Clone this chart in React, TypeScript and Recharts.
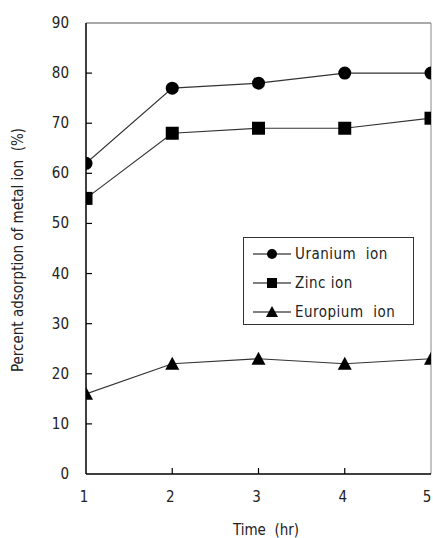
import React from "react";
import {
  LineChart,
  Line,
  XAxis,
  YAxis,
  ReferenceLine,
} from "recharts";

const hours = [1, 2, 3, 4, 5];
const uranium = [62, 77, 78, 80, 80];
const zinc = [55, 68, 69, 69, 71];
const europium = [16, 22, 23, 22, 23];
const yTicks = [0, 10, 20, 30, 40, 50, 60, 70, 80, 90];

const data = hours.map((h, i) => ({
  hour: h,
  uranium: uranium[i],
  zinc: zinc[i],
  europium: europium[i],
}));

const FONT = "'Liberation Sans Narrow', 'DejaVu Sans Condensed', 'Liberation Sans', sans-serif";
const INK = "#222";

const Circle = (props: any) => {
  const { cx, cy } = props;
  if (cx == null || cy == null) return null;
  return <circle cx={cx} cy={cy} r={6.5} fill="#000" />;
};

const Square = (props: any) => {
  const { cx, cy } = props;
  if (cx == null || cy == null) return null;
  return <rect x={cx - 6.5} y={cy - 6.5} width={13} height={13} fill="#000" />;
};

const Triangle = (props: any) => {
  const { cx, cy } = props;
  if (cx == null || cy == null) return null;
  return (
    <path
      d={`M${cx},${cy - 7} L${cx + 7},${cy + 6} L${cx - 7},${cy + 6} Z`}
      fill="#000"
    />
  );
};

const YTick = (props: any) => {
  const { x, y, payload } = props;
  return (
    <g>
      {payload.value !== 0 && payload.value !== 90 && (
        <line x1={x} y1={y} x2={x + 6} y2={y} stroke="#000" strokeWidth={1.2} />
      )}
      <text
        x={x - 17}
        y={y + 5}
        textAnchor="end"
        fontSize={15}
        fontFamily={FONT}
        fill={INK}
      >
        {payload.value}
      </text>
    </g>
  );
};

const XTick = (props: any) => {
  const { x, y, payload } = props;
  return (
    <g>
      {payload.value !== 1 && payload.value !== 5 && (
        <line x1={x} y1={y} x2={x} y2={y - 6} stroke="#000" strokeWidth={1.2} />
      )}
      <text
        x={x - 2}
        y={y + 28}
        textAnchor="middle"
        fontSize={15}
        fontFamily={FONT}
        fill={INK}
      >
        {payload.value}
      </text>
    </g>
  );
};

const legendItems = [
  { label: "Uranium  ion", marker: "circle" },
  { label: "Zinc ion", marker: "square" },
  { label: "Europium  ion", marker: "triangle" },
];

const LegendBox = () => (
  <div
    style={{
      position: "absolute",
      left: 243,
      top: 237,
      border: "1px solid #333",
      width: 171,
      height: 88,
      boxSizing: "border-box",
      background: "#fff",
      padding: "1px 0 0 8px",
    }}
  >
    {legendItems.map((it) => (
      <div
        key={it.label}
        style={{ display: "flex", alignItems: "center", height: 29 }}
      >
        <svg width={40} height={14}>
          <line x1={1} y1={7} x2={39} y2={7} stroke="#000" strokeWidth={1.2} />
          {it.marker === "circle" && <circle cx={20} cy={7} r={5} fill="#000" />}
          {it.marker === "square" && (
            <rect x={15} y={2} width={10} height={10} fill="#000" />
          )}
          {it.marker === "triangle" && (
            <path d="M20,1 L26,12 L14,12 Z" fill="#000" />
          )}
        </svg>
        <span
          style={{
            fontFamily: FONT,
            fontSize: 15,
            color: INK,
            marginLeft: 3,
            whiteSpace: "pre",
            letterSpacing: 0.5,
          }}
        >
          {it.label}
        </span>
      </div>
    ))}
  </div>
);

export default function App() {
  return (
    <div
      style={{
        position: "absolute",
        left: 0,
        top: 0,
        width: 433,
        height: 538,
        background: "#fff",
      }}
    >
      <LineChart
        width={433}
        height={538}
        data={data}
        margin={{ top: 23, right: 2, bottom: 0, left: 0 }}
      >
        <XAxis
          dataKey="hour"
          type="number"
          domain={[1, 5]}
          ticks={hours}
          tick={<XTick />}
          tickLine={false}
          tickSize={0}
          tickMargin={0}
          height={64}
          axisLine={{ stroke: "#000", strokeWidth: 1.5 }}
          allowDataOverflow
        />
        <YAxis
          type="number"
          domain={[0, 90]}
          ticks={yTicks}
          interval={0}
          width={86}
          tick={<YTick />}
          tickLine={false}
          tickSize={0}
          tickMargin={0}
          axisLine={{ stroke: "#000", strokeWidth: 1.5 }}
        />
        <ReferenceLine y={90} stroke="#555" strokeWidth={1} />
        <ReferenceLine x={5} stroke="#888" strokeWidth={1} />
        <Line
          dataKey="uranium"
          stroke="#333"
          strokeWidth={1.2}
          dot={<Circle />}
          activeDot={false}
          isAnimationActive={false}
        />
        <Line
          dataKey="zinc"
          stroke="#333"
          strokeWidth={1.2}
          dot={<Square />}
          activeDot={false}
          isAnimationActive={false}
        />
        <Line
          dataKey="europium"
          stroke="#333"
          strokeWidth={1.2}
          dot={<Triangle />}
          activeDot={false}
          isAnimationActive={false}
        />
        <text
          x={266}
          y={535}
          textAnchor="middle"
          fontSize={15}
          fontFamily={FONT}
          fill={INK}
          style={{ whiteSpace: "pre" }}
        >
          Time  (hr)
        </text>
        <text
          x={23}
          y={250}
          textAnchor="middle"
          fontSize={15}
          fontFamily={FONT}
          fill={INK}
          transform="rotate(-90 23 250)"
          style={{ whiteSpace: "pre" }}
        >
          Percent adsorption of metal ion  (%)
        </text>
      </LineChart>
      <LegendBox />
    </div>
  );
}
